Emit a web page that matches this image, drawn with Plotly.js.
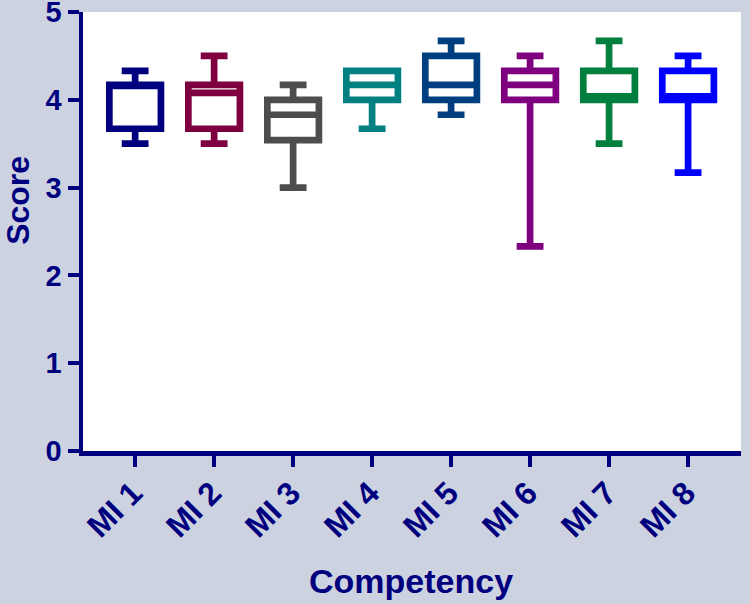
<!DOCTYPE html>
<html>
<head>
<meta charset="utf-8">
<script src="https://cdn.plot.ly/plotly-3.0.1.min.js"></script>
<style>html,body{margin:0;padding:0;background:#ccd2e0;}#chart{width:750px;height:604px;}</style>
</head>
<body>
<div id="chart"></div>
<script>
// Data
const categories = ['MI 1', 'MI 2', 'MI 3', 'MI 4', 'MI 5', 'MI 6', 'MI 7', 'MI 8'];
const lowerWhisker = [3.50, 3.50, 3.00, 3.67, 3.83, 2.33, 3.50, 3.17];
const q1Values     = [3.67, 3.67, 3.54, 4.00, 4.00, 4.00, 4.00, 4.00];
const medianValues = [4.17, 4.08, 3.83, 4.17, 4.17, 4.17, 4.04, 4.04];
const q3Values     = [4.17, 4.17, 4.00, 4.33, 4.50, 4.33, 4.33, 4.33];
const upperWhisker = [4.33, 4.50, 4.17, 4.33, 4.67, 4.50, 4.67, 4.50];
const yTicks = [0, 1, 2, 3, 4, 5];
const xTitle = 'Competency';
const yTitle = 'Score';

// Styles
const boxColors = ['#00007f', '#7f003f', '#4d4d4d', '#008080', '#003f7f', '#7f007f', '#007f3f', '#0000ff'];
const navy = '#00007f';

const traces = categories.map((c, i) => ({
  type: 'box',
  name: c,
  x: [c],
  q1: [q1Values[i]],
  median: [medianValues[i]],
  q3: [q3Values[i]],
  lowerfence: [lowerWhisker[i]],
  upperfence: [upperWhisker[i]],
  width: 0.653,
  whiskerwidth: 0.52,
  fillcolor: 'rgba(255,255,255,0)',
  line: {color: boxColors[i], width: 6.7},
  boxpoints: false,
  hoverinfo: 'skip',
  showlegend: false
}));

const layout = {
  width: 750,
  height: 604,
  paper_bgcolor: '#ccd2e0',
  plot_bgcolor: '#ffffff',
  margin: {l: 83, r: 9, t: 12, b: 153},
  showlegend: false,
  font: {family: 'Arial, "Liberation Sans", sans-serif', color: navy},
  xaxis: {
    type: 'category',
    categoryorder: 'array',
    categoryarray: categories,
    range: [-0.66, 7.67],
    showline: true,
    linecolor: navy,
    linewidth: 4.5,
    ticks: 'outside',
    ticklen: 11,
    tickwidth: 4,
    tickcolor: navy,
    tickangle: -45,
    ticklabelstandoff: -5,
    ticklabelshift: -2,
    tickfont: {size: 32, weight: 'bold', color: navy},
    showgrid: false,
    zeroline: false
  },
  yaxis: {
    range: [0, 5],
    tickvals: yTicks,
    ticktext: yTicks.map(String),
    showline: true,
    linecolor: navy,
    linewidth: 4.5,
    ticks: 'outside',
    ticklen: 11,
    tickwidth: 4,
    tickcolor: navy,
    tickfont: {size: 29, weight: 'bold', color: navy},
    ticklabeloverflow: 'allow',
    showgrid: false,
    zeroline: false
  },
  annotations: [
    {text: xTitle, xref: 'paper', yref: 'paper', x: 0.4985, y: -0.296,
     xanchor: 'center', yanchor: 'middle', showarrow: false,
     font: {size: 34, weight: 'bold', color: navy}},
    {text: yTitle, xref: 'paper', yref: 'paper', x: -0.099, y: 0.5718,
     xanchor: 'center', yanchor: 'middle', textangle: -90, showarrow: false,
     font: {size: 32, weight: 'bold', color: navy}}
  ]
};

Plotly.newPlot('chart', traces, layout, {displayModeBar: false, staticPlot: true});
</script>
</body>
</html>
